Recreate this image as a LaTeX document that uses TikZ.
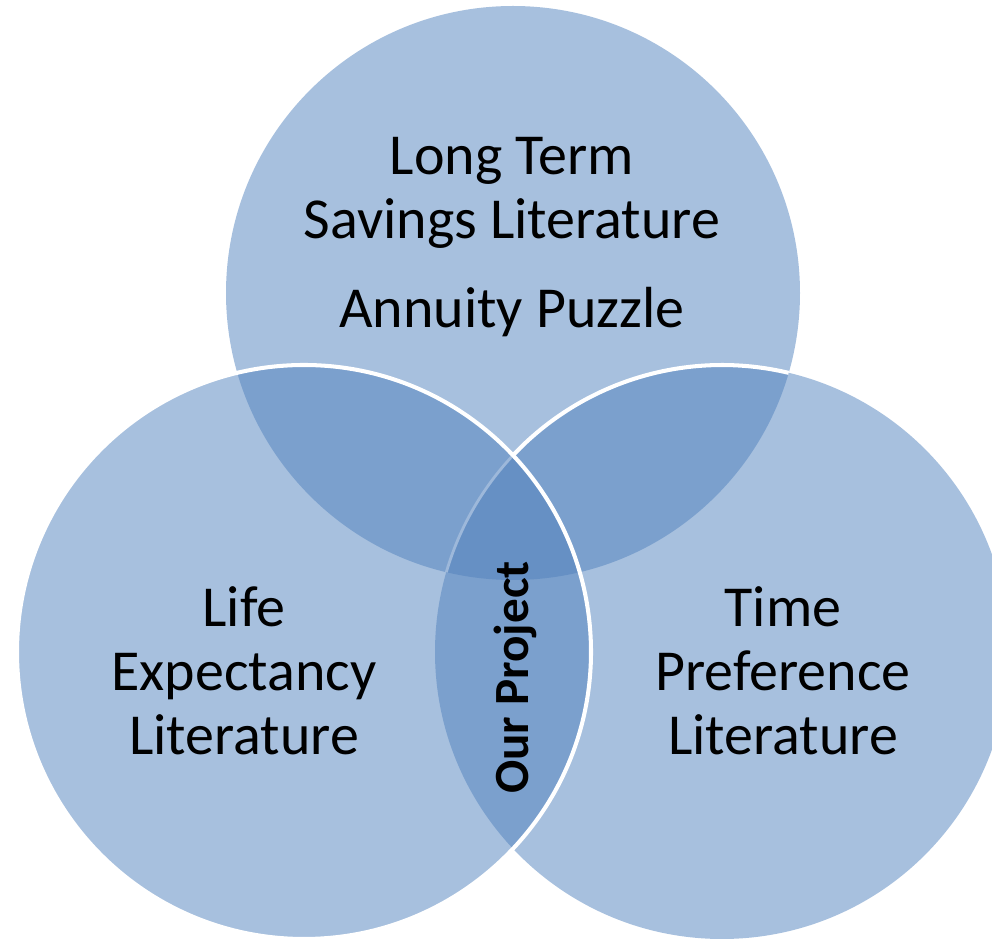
\documentclass[tikz,border=0pt]{standalone}
\usepackage{fontspec}
\setmainfont{Carlito}
\usepackage{tikz}
\definecolor{basecol}{HTML}{A7C0DE}
\definecolor{paircol}{HTML}{7BA0CD}
\definecolor{triplecol}{HTML}{6690C4}
\definecolor{seamcol}{HTML}{9DB8DA}
\newcommand{\circrad}{287}
\tikzset{
  lbl/.style={align=center, inner sep=0pt, font=\fontsize{33}{36.5}\selectfont},
  rim/.style={draw=white, line width=2.3pt},
  seam/.style={draw=seamcol, line width=1.6pt}
}

\begin{document}
\begin{tikzpicture}[x=0.02cm, y=0.02cm]
\useasboundingbox (0,0) rectangle (992,941);

% Centres
\coordinate (ctop) at (513,648);
\coordinate (cleft) at (304,289);
\coordinate (cright) at (722,289);

% Circles
\foreach \c in {ctop,cleft,cright}
  \fill[basecol] (\c) circle (\circrad);

% Left and right overlap
\begin{scope}
  \clip (cleft) circle (\circrad);
  \fill[paircol] (cright) circle (\circrad);
\end{scope}

% Overlaps with the top circle
\begin{scope}
  \clip (ctop) circle (\circrad);
  \fill[paircol] (cleft) circle (\circrad);
  \fill[paircol] (cright) circle (\circrad);
  \clip (cleft) circle (\circrad);
  \fill[triplecol] (cright) circle (\circrad);
\end{scope}

% Outlines
\draw[seam] (cright) ++(136.74:\circrad)
  arc[start angle=136.74, end angle=163.86, radius=\circrad];
\draw[rim] (cright) ++(76.56:\circrad)
  arc[start angle=76.56, end angle=136.74, radius=\circrad];
\draw[rim] (cleft) circle (\circrad);

% Labels (base = last line)
\node[lbl, anchor=base] (savings) at (512,702) {Long Term\\Savings Literature};
\node[lbl, anchor=base] (annuity) at (512,613) {Annuity Puzzle};
\node[lbl, anchor=base] (lifeexp) at (244,186) {Life\\Expectancy\\Literature};
\node[lbl, anchor=base] (timepref) at (783,186) {Time\\Preference\\Literature};

% Centre
\node[inner sep=0pt, rotate=90, anchor=base, font=\bfseries\fontsize{28}{30}\selectfont]
  (project) at (528,263.5) {Our Project};

\end{tikzpicture}
\end{document}
